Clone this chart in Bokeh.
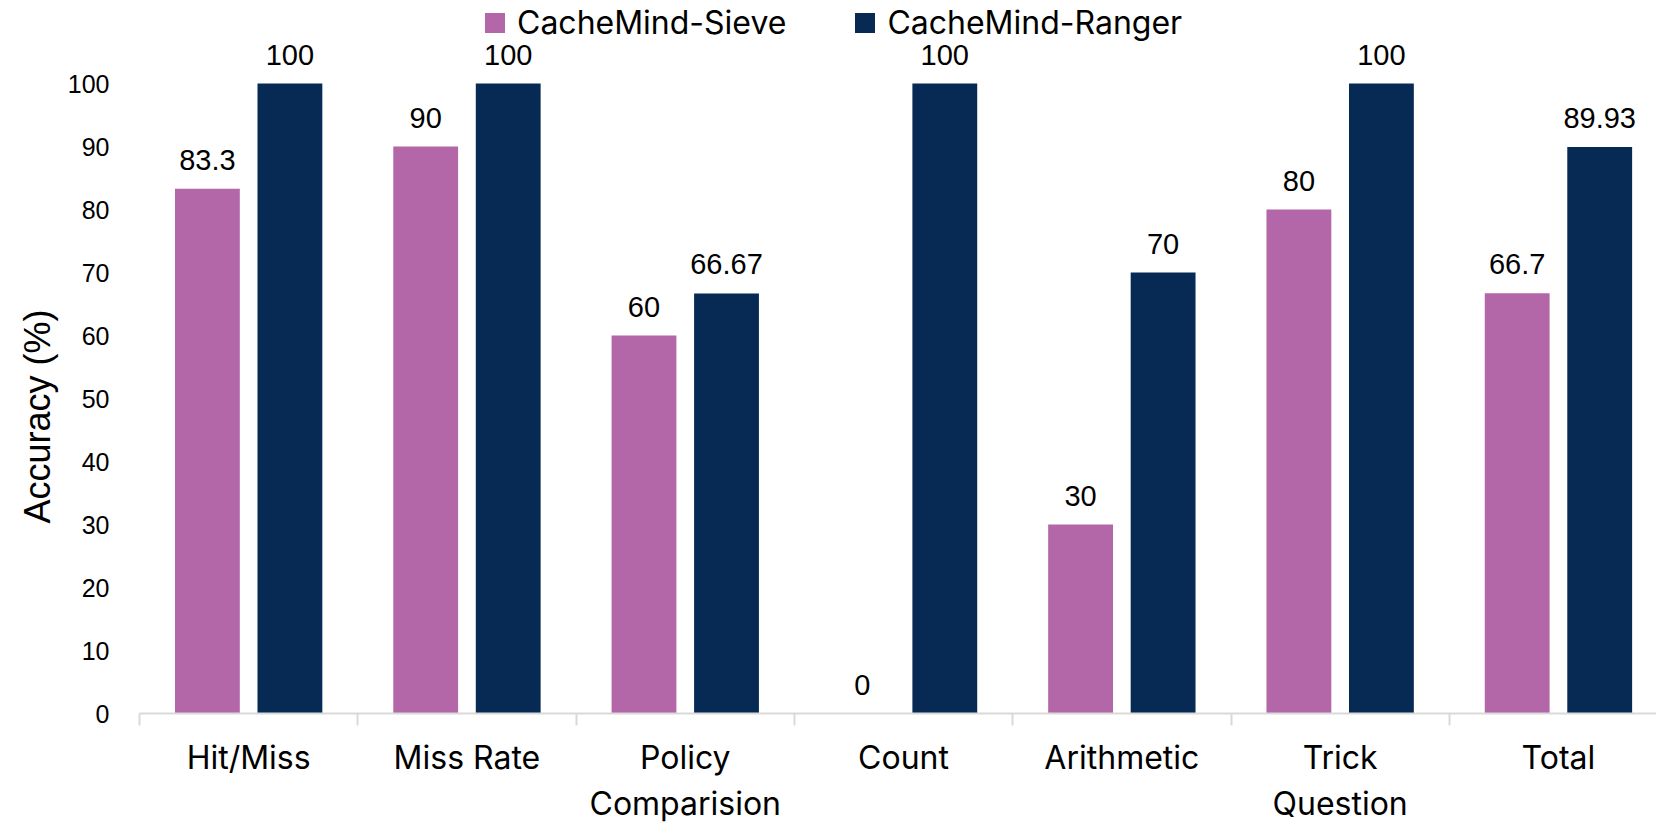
import math
from bokeh.plotting import figure
from bokeh.models import Range1d, FixedTicker, Legend, LegendItem, Title, ColumnDataSource
from bokeh.embed import file_html
from bokeh.resources import INLINE
from bokeh.core.properties import value

# ---- data ----
categories = ["Hit/Miss", "Miss Rate", "Policy\nComparision", "Count", "Arithmetic", "Trick\nQuestion", "Total"]
sieve = [83.3, 90, 60, 0, 30, 80, 66.7]
ranger = [100, 100, 66.67, 100, 70, 100, 89.93]
sieve_labels = ["83.3", "90", "60", "0", "30", "80", "66.7"]
ranger_labels = ["100", "100", "66.67", "100", "70", "100", "89.93"]
y_ticks = [0, 10, 20, 30, 40, 50, 60, 70, 80, 90, 100]
series_names = ["CacheMind-Sieve", "CacheMind-Ranger"]
colors = ["#B366A8", "#062A54"]
y_title = "Accuracy (%)"

idx = list(range(len(categories)))
offset = 0.189
bar_w = 0.297

src_s = ColumnDataSource(dict(x=[i - offset for i in idx], top=sieve, lab=sieve_labels))
src_r = ColumnDataSource(dict(x=[i + offset for i in idx], top=ranger, lab=ranger_labels))

W, H = 1656, 826
frame_left, frame_bottom_px = 139, 713
px_per_cat = 218.3
px_per_unit = 6.3

p = figure(width=W, height=H, output_backend="svg", toolbar_location=None,
           x_range=Range1d(-0.5, -0.5 + (W - frame_left) / px_per_cat),
           y_range=Range1d(0, frame_bottom_px / px_per_unit),
           min_border_left=frame_left, min_border_right=0,
           min_border_top=0, min_border_bottom=H - frame_bottom_px)
p.outline_line_color = None
p.xgrid.visible = False
p.ygrid.visible = False
p.background_fill_color = "white"
p.border_fill_color = "white"

r1 = p.vbar(x="x", top="top", width=bar_w, bottom=0, source=src_s, color=colors[0], line_color=None)
r2 = p.vbar(x="x", top="top", width=bar_w, bottom=0, source=src_r, color=colors[1], line_color=None)

for src in (src_s, src_r):
    p.text(x="x", y="top", text="lab", source=src, text_font=value("Liberation Sans"),
           text_font_size="29px", text_align="center", text_baseline="alphabetic",
           y_offset=-29, text_color="#000000")

# x axis
xa = p.xaxis[0]
xa.ticker = FixedTicker(ticks=idx, minor_ticks=[i - 0.5 for i in range(len(categories) + 1)])
xa.major_label_overrides = {i: c for i, c in enumerate(categories)}
xa.axis_line_color = "#d9d9d9"
xa.axis_line_width = 2
xa.major_tick_line_color = None
xa.major_tick_out = 0
xa.major_tick_in = 0
xa.minor_tick_line_color = "#d9d9d9"
xa.minor_tick_line_width = 2
xa.minor_tick_out = 12
xa.minor_tick_in = 0
xa.major_label_text_font = "Inter"
xa.major_label_text_font_size = "32px"
xa.major_label_text_color = "#000000"
xa.major_label_standoff = 12

# y axis
ya = p.yaxis[0]
ya.ticker = FixedTicker(ticks=y_ticks)
ya.axis_line_color = None
ya.major_tick_line_color = None
ya.minor_tick_line_color = None
ya.major_tick_out = 0
ya.major_tick_in = 0
ya.major_label_text_font = "Liberation Sans"
ya.major_label_text_font_size = "25px"
ya.major_label_text_color = "#000000"
ya.major_label_standoff = 30

title = Title(text=y_title, align="left", offset=190, vertical_align="top",
              text_font="Liberation Sans", text_font_size="36px", text_font_style="normal",
              text_color="#000000", standoff=10)
p.add_layout(title, "left")

legend = Legend(items=[LegendItem(label=series_names[0], renderers=[r1]),
                       LegendItem(label=series_names[1], renderers=[r2])],
                location=(482 - frame_left, frame_bottom_px - 42), orientation="horizontal",
                label_text_font="Inter", label_text_font_size="32px", label_text_color="#000000",
                glyph_width=25, glyph_height=25, label_standoff=10, spacing=66,
                padding=0, margin=0, border_line_color=None, background_fill_alpha=0)
p.add_layout(legend)

open("out.html", "w").write(file_html(p, INLINE))
